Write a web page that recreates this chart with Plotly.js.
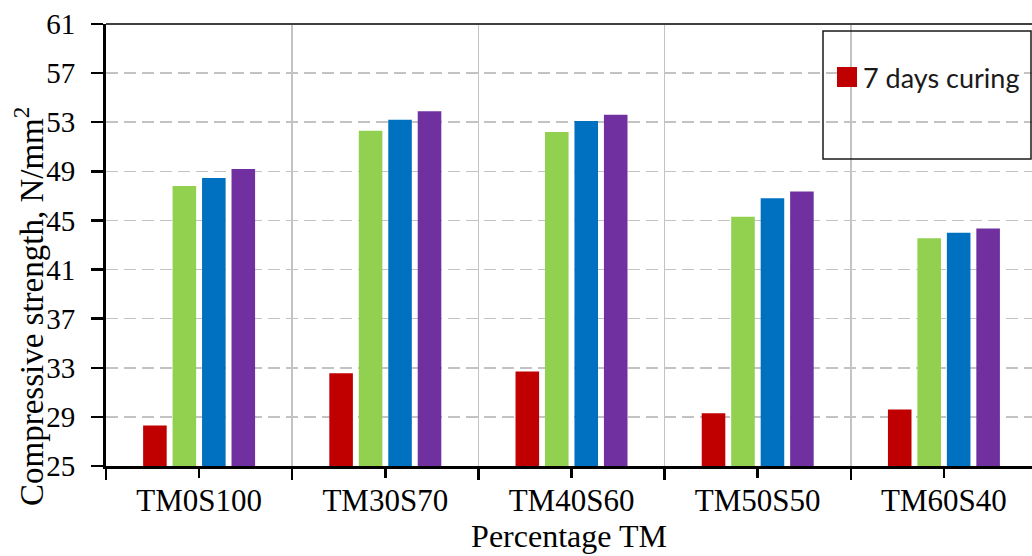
<!DOCTYPE html>
<html>
<head>
<meta charset="utf-8">
<script src="https://cdn.plot.ly/plotly-3.0.1.min.js"></script>
<style>
  html, body { margin: 0; padding: 0; background: #fff; }
  #chart { width: 1032px; height: 556px; }
</style>
</head>
<body>
<div id="chart"></div>
<script>
// Mix designs along the x axis
const categories = ['TM0S100', 'TM30S70', 'TM40S60', 'TM50S50', 'TM60S40'];

// Compressive strength (N/mm²) for each curing series
const seriesNames = ['7 days curing', 'Series 2', 'Series 3', 'Series 4'];
const strength7 = [28.3, 32.55, 32.7, 29.3, 29.6];
const strength2 = [47.8, 52.3, 52.2, 45.3, 43.55];
const strength3 = [48.45, 53.2, 53.1, 46.8, 44.0];
const strength4 = [49.2, 53.9, 53.6, 47.35, 44.35];

// Y axis ticks
const yTicks = [25, 29, 33, 37, 41, 45, 49, 53, 57, 61];

const colors = ['#C00000', '#92D050', '#0070C0', '#7030A0'];
const seriesValues = [strength7, strength2, strength3, strength4];

const W = 1032, H = 556;
const M = { l: 106, r: 0, t: 24, b: 90 };
const plotW = W - M.l - M.r, plotH = H - M.t - M.b;
// pixel -> paper helpers for decorations placed outside the data space
const pxX = x => (x - M.l) / plotW;
const pxY = y => (H - M.b - y) / plotH;

const serif = 'Liberation Serif';

const traces = seriesValues.map((vals, i) => ({
  type: 'bar',
  name: seriesNames[i],
  x: categories,
  y: vals,
  marker: { color: colors[i], line: { width: 0 } },
  showlegend: false,
  hovertemplate: '%{x}: %{y}<extra>' + seriesNames[i] + '</extra>'
}));

// helper trace so the secondary axis (center ticks) is always drawn
traces.push({
  type: 'scatter', mode: 'none', x: categories, y: categories.map(() => null),
  xaxis: 'x2', yaxis: 'y', showlegend: false, hoverinfo: 'skip'
});

const xRange = [-0.5, 4.473];

const layout = {
  width: W, height: H,
  margin: M,
  font: { family: serif, color: '#000' },
  paper_bgcolor: '#fff', plot_bgcolor: '#fff',
  barmode: 'group',
  bargap: 0.367,
  bargroupgap: 0.2,
  showlegend: false,
  xaxis: {
    type: 'category',
    categoryorder: 'array', categoryarray: categories,
    range: xRange,
    tickson: 'boundaries',
    ticks: 'outside', ticklen: 11, tickwidth: 2.5, tickcolor: '#000',
    ticklabelstandoff: 5,
    showline: true, linecolor: '#000', linewidth: 3,
    showgrid: true, gridcolor: '#C3C3C3', gridwidth: 1.5,
    tickfont: { family: serif, size: 31, color: '#000' },
    title: { text: 'Percentage TM', font: { family: serif, size: 32, color: '#000' }, standoff: 3 },
    fixedrange: true
  },
  xaxis2: {
    type: 'category',
    categoryorder: 'array', categoryarray: categories,
    range: xRange,
    overlaying: 'x', anchor: 'y', side: 'bottom',
    ticks: 'outside', ticklen: 11, tickwidth: 2.5, tickcolor: '#000',
    showticklabels: false, showgrid: false, showline: false, zeroline: false,
    fixedrange: true
  },
  yaxis: {
    range: [25, 61],
    tickvals: yTicks,
    ticktext: yTicks.map(String),
    ticks: 'outside', ticklen: 12, tickwidth: 2.5, tickcolor: '#000',
    ticklabelstandoff: 10,
    showline: true, linecolor: '#000', linewidth: 3,
    showgrid: true, gridcolor: '#C3C3C3', gridwidth: 1.5, griddash: '12px,6px',
    zeroline: false,
    tickfont: { family: serif, size: 29, color: '#000' },
    fixedrange: true
  },
  shapes: [
    // top border of the plot area
    { type: 'line', xref: 'paper', yref: 'paper', x0: 0, x1: 1, y0: 1, y1: 1,
      line: { color: '#404040', width: 2 } },
    // legend frame
    { type: 'rect', xref: 'paper', yref: 'paper',
      x0: pxX(823), x1: pxX(1031), y0: pxY(159), y1: pxY(31),
      line: { color: '#1a1a1a', width: 1.5 }, fillcolor: 'rgba(0,0,0,0)' },
    // legend swatch
    { type: 'rect', xref: 'paper', yref: 'paper',
      x0: pxX(837), x1: pxX(857), y0: pxY(87), y1: pxY(67),
      line: { width: 0 }, fillcolor: colors[0] }
  ],
  annotations: [
    { xref: 'paper', yref: 'paper', x: pxX(861), y: pxY(77),
      xanchor: 'left', yanchor: 'middle', showarrow: false,
      text: seriesNames[0], bgcolor: '#fff',
      font: { family: 'Lato', size: 27, color: '#1a1a1a' } },
    { xref: 'paper', yref: 'paper', x: pxX(29), y: pxY(307),
      xanchor: 'center', yanchor: 'middle', showarrow: false, textangle: -90,
      text: 'Compressive strength, N/mm<sup>2</sup>',
      font: { family: serif, size: 33, color: '#000' } }
  ]
};

Plotly.newPlot('chart', traces, layout, { staticPlot: true, displayModeBar: false });
</script>
</body>
</html>
